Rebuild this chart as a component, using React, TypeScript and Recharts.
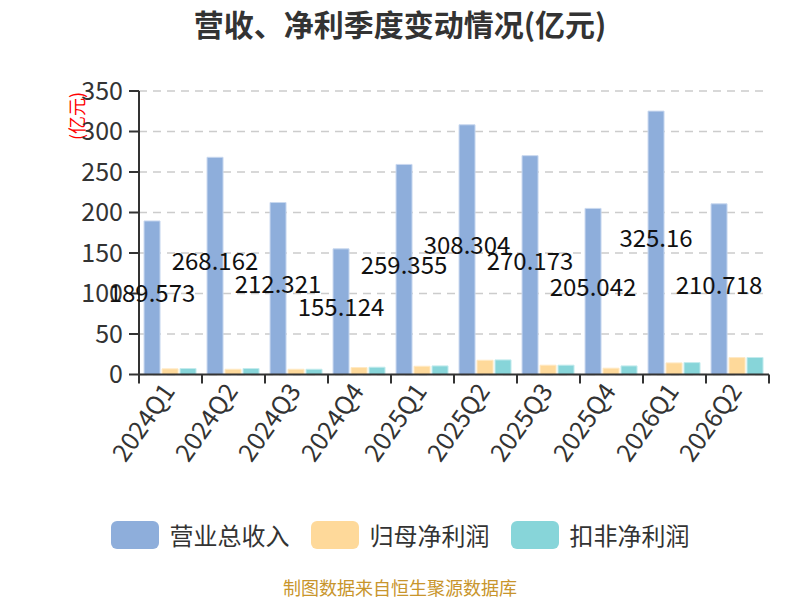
import { Bar, BarChart, CartesianGrid, LabelList, XAxis, YAxis } from "recharts";

const quarters = ["2024Q1", "2024Q2", "2024Q3", "2024Q4", "2025Q1", "2025Q2", "2025Q3", "2025Q4", "2026Q1", "2026Q2"];
const revenue = [189.573, 268.162, 212.321, 155.124, 259.355, 308.304, 270.173, 205.042, 325.16, 210.718];
const netProfit = [7.0, 6.5, 6.5, 8.6, 10.2, 17.6, 11.5, 7.8, 14.3, 20.9];
const deductedProfit = [7.4, 7.4, 6.5, 9.0, 10.6, 18.0, 11.5, 10.6, 14.7, 21.0];
const yTicks = [0, 50, 100, 150, 200, 250, 300, 350];

const seriesNames = ["营业总收入", "归母净利润", "扣非净利润"];
const seriesColors = ["#8eaedb", "#fed99a", "#87d5d9"];

const data = quarters.map((q, i) => ({
  quarter: q,
  revenue: revenue[i],
  netProfit: netProfit[i],
  deductedProfit: deductedProfit[i]
}));

const FONT = '"Noto Sans CJK SC", "Noto Sans", sans-serif';

function QuarterTick(props: any) {
  const { x, y, payload, index, width, visibleTicksCount } = props;
  const band = width / visibleTicksCount;
  const left = x - band / 2;
  const isLast = index === visibleTicksCount - 1;
  return (
    <g>
      <line x1={left} y1={y} x2={left} y2={y + 9} stroke="#333" strokeWidth={2} />
      {isLast && <line x1={left + band} y1={y} x2={left + band} y2={y + 9} stroke="#333" strokeWidth={2} />}
      <text
        x={x}
        y={y + 13}
        transform={`rotate(-55, ${x}, ${y + 13})`}
        textAnchor="end"
        dominantBaseline="middle"
        fontSize={25}
        fill="#333"
        fontFamily={FONT}
      >
        {payload.value}
      </text>
    </g>
  );
}

function LegendBox() {
  return (
    <div style={{ display: "flex", justifyContent: "center", alignItems: "center", fontFamily: FONT }}>
      {seriesNames.map((name, i) => (
        <div key={name} style={{ display: "flex", alignItems: "center", marginRight: i < 2 ? 21 : 0 }}>
          <div style={{ width: 48, height: 28, borderRadius: 6, background: seriesColors[i], marginRight: 11 }} />
          <span style={{ fontSize: 24, color: "#333", lineHeight: "28px" }}>{name}</span>
        </div>
      ))}
    </div>
  );
}

export default function App() {
  return (
    <div style={{ position: "absolute", left: 0, top: 0, width: 800, height: 600, background: "#fff", fontFamily: FONT }}>
      <div
        style={{
          position: "absolute",
          top: 5,
          left: 0,
          width: 800,
          textAlign: "center",
          fontSize: 30,
          fontWeight: "bold",
          color: "#333",
          lineHeight: "36px"
        }}
      >
        营收、净利季度变动情况(亿元)
      </div>
      <div
        style={{
          position: "absolute",
          left: 76,
          top: 116,
          transform: "translate(-50%, -50%) rotate(-90deg)",
          fontSize: 18,
          color: "#ff0000",
          whiteSpace: "nowrap",
          lineHeight: "20px"
        }}
      >
        (亿元)
      </div>
      <BarChart
        width={800}
        height={600}
        data={data}
        margin={{ top: 91, right: 31, bottom: 125.5, left: 0 }}
        barCategoryGap="8%"
        barGap={2}
        style={{ fontFamily: FONT }}
      >
        <CartesianGrid vertical={false} stroke="#ccc" strokeWidth={1.5} strokeDasharray="8 6" />
        <XAxis
          dataKey="quarter"
          interval={0}
          tickLine={false}
          tickSize={0}
          tickMargin={0}
          height={100}
          axisLine={{ stroke: "#333", strokeWidth: 2 }}
          tick={<QuarterTick />}
        />
        <YAxis
          width={139}
          domain={[0, 350]}
          ticks={yTicks}
          interval={0}
          tickSize={10}
          tickMargin={6}
          axisLine={{ stroke: "#333", strokeWidth: 2 }}
          tickLine={{ stroke: "#333", strokeWidth: 2 }}
          tick={{ fill: "#333", fontSize: 25, fontFamily: FONT }}
        />
        <Bar dataKey="revenue" name={seriesNames[0]} fill={seriesColors[0]} stroke="#c9d8ef" strokeWidth={1} isAnimationActive={false}>
          <LabelList dataKey="revenue" position="center" fill="#111" fontSize={24} fontFamily={FONT} dy={-4} />
        </Bar>
        <Bar dataKey="netProfit" name={seriesNames[1]} fill={seriesColors[1]} stroke="#ffe9c4" strokeWidth={1} isAnimationActive={false} />
        <Bar dataKey="deductedProfit" name={seriesNames[2]} fill={seriesColors[2]} stroke="#c3ebed" strokeWidth={1} isAnimationActive={false} />
      </BarChart>
      <div style={{ position: "absolute", top: 521, left: 0, width: 800 }}>
        <LegendBox />
      </div>
      <div
        style={{
          position: "absolute",
          top: 577,
          left: 0,
          width: 800,
          textAlign: "center",
          fontSize: 18,
          color: "#c8952c",
          lineHeight: "20px"
        }}
      >
        制图数据来自恒生聚源数据库
      </div>
    </div>
  );
}
